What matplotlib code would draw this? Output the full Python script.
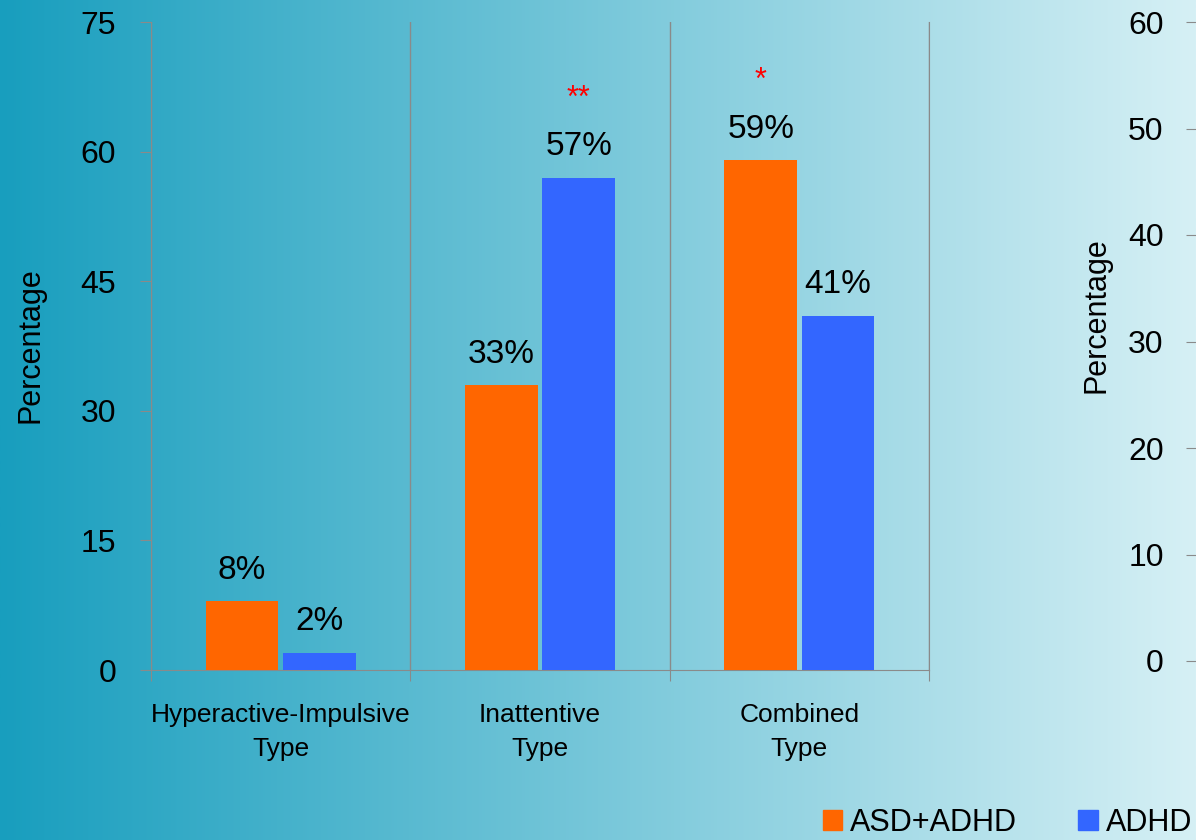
import numpy as np
import matplotlib
matplotlib.use('Agg')
import matplotlib.pyplot as plt
from matplotlib.patches import Patch

# datos del grafico
categorias = ['Hyperactive-Impulsive\nType', 'Inattentive\nType', 'Combined\nType']
asd_adhd = [8, 33, 59]
adhd = [2, 57, 41]
marcas_asd = ['', '', '*']
marcas_adhd = ['', '**', '']
ticks_izq = [0, 15, 30, 45, 60, 75]
ticks_der = [0, 10, 20, 30, 40, 50, 60]

NARANJA = '#FF6600'
AZUL = '#3366FF'
GRIS = '#8a8a8a'
FUENTE = ['Liberation Sans', 'DejaVu Sans']

plt.rcParams['font.family'] = FUENTE

fig = plt.figure(figsize=(11.96, 8.4), dpi=100)

# fondo degradado horizontal
fondo = fig.add_axes([0, 0, 1, 1], zorder=-10)
izq = np.array([24, 158, 190]) / 255
der = np.array([214, 240, 245]) / 255
t = np.linspace(0, 1, 600)[None, :, None]
grad = izq + (der - izq) * t
fondo.imshow(grad, aspect='auto', extent=[0, 1, 0, 1])
fondo.set_axis_off()

# eje principal
ax = fig.add_axes([151 / 1196, 1 - 670 / 840, 778 / 1196, 648 / 840])
ax.set_facecolor('none')
x = np.arange(len(categorias))
ancho = 0.28
b1 = ax.bar(x - 0.149, asd_adhd, ancho, color=NARANJA, zorder=3)
b2 = ax.bar(x + 0.149, adhd, ancho, color=AZUL, zorder=3)

for barras, vals, marcas in [(b1, asd_adhd, marcas_asd), (b2, adhd, marcas_adhd)]:
    for b, v, m in zip(barras, vals, marcas):
        cx = b.get_x() + b.get_width() / 2
        ax.annotate(f'{v}%', (cx, v), xytext=(0, 11), textcoords='offset points',
                    ha='center', va='bottom', fontsize=24)
        if m:
            ax.annotate(m, (cx, v), xytext=(0, 46), textcoords='offset points',
                        ha='center', va='bottom', fontsize=22, color='red')

ax.set_xlim(-0.5, 2.5)
ax.set_ylim(0, 75)
ax.set_yticks(ticks_izq)
ax.set_yticklabels([str(v) for v in ticks_izq], fontsize=23)
ax.tick_params(axis='y', length=8, color=GRIS, pad=17)

ax.set_xticks([-0.5, 0.5, 1.5, 2.5])
ax.set_xticklabels([])
ax.tick_params(axis='x', which='major', length=8, color=GRIS)
ax.set_xticks(x, minor=True)
ax.set_xticklabels(categorias, minor=True, fontsize=19, linespacing=1.5)
ax.tick_params(axis='x', which='minor', length=0, pad=24)
ax.grid(axis='x', which='major', color=GRIS, lw=1, zorder=1)

ax.spines['top'].set_visible(False)
for s in ['left', 'right', 'bottom']:
    ax.spines[s].set_color(GRIS)

fig.text(31 / 1196, 1 - 345 / 840, 'Percentage', rotation=90, fontsize=22,
         ha='center', va='center')

# eje derecho (segundo grafico cortado)
ax2 = fig.add_axes([1197 / 1196, 1 - 661 / 840, 0.05, 639 / 840])
ax2.set_facecolor('none')
ax2.set_ylim(0, 60)
ax2.set_yticks(ticks_der)
ax2.set_yticklabels([str(v) for v in ticks_der], fontsize=23)
ax2.tick_params(axis='y', length=8, color=GRIS, pad=16)
ax2.set_xticks([])
for s in ax2.spines.values():
    s.set_visible(False)
fig.text(1097 / 1196, 1 - 315 / 840, 'Percentage', rotation=90, fontsize=22,
         ha='center', va='center')

# leyenda
handles = [Patch(color=NARANJA, label='ASD+ADHD'), Patch(color=AZUL, label='ADHD')]
fig.legend(handles=handles, loc='center right', bbox_to_anchor=(1192 / 1196, 1 - 823 / 840),
           ncol=2, frameon=False, fontsize=22, handlelength=0.65, handleheight=0.65,
           handletextpad=0.25, columnspacing=2.0, borderpad=0, borderaxespad=0)

fig.savefig('out.png', dpi=100)
